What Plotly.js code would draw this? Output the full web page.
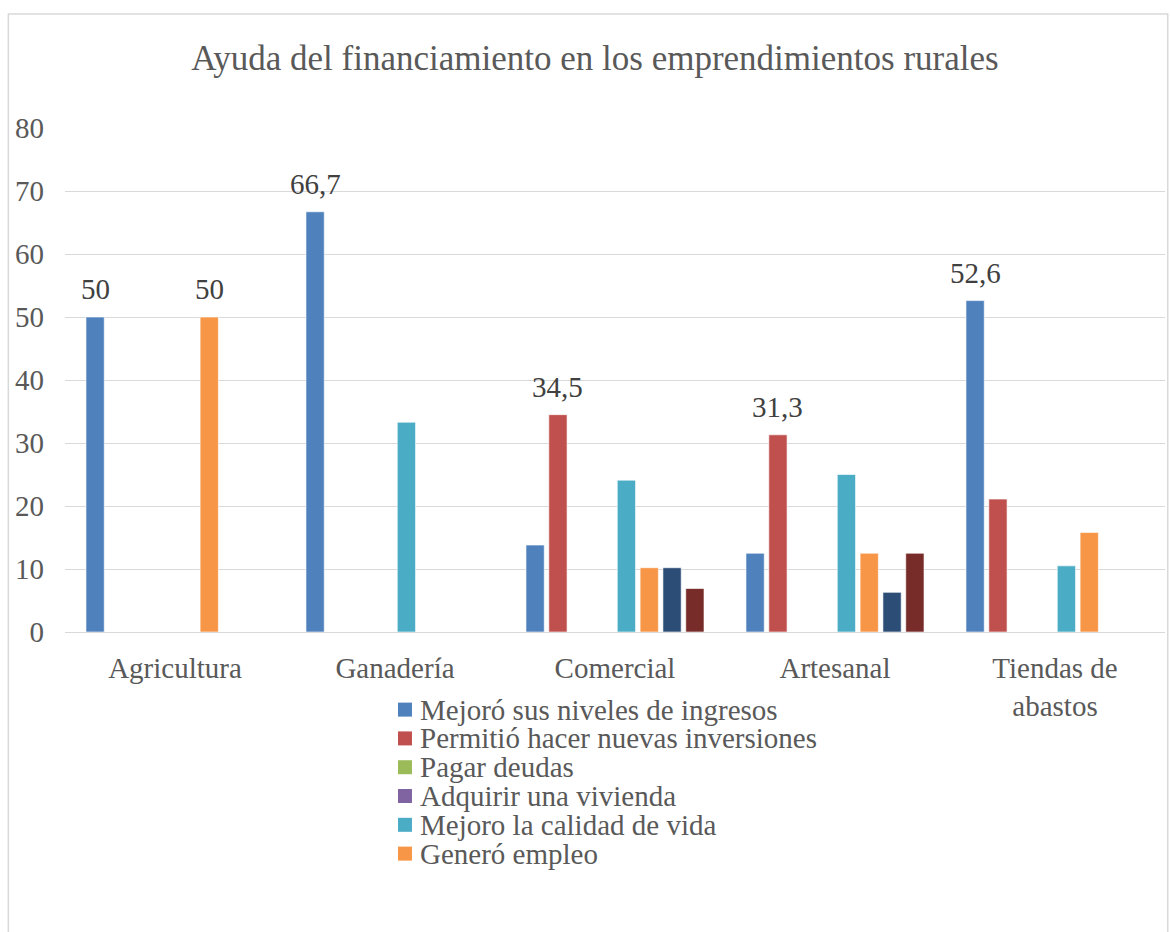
<!DOCTYPE html>
<html>
<head>
<meta charset="utf-8">
<script src="https://cdn.plot.ly/plotly-3.0.1.min.js"></script>
<style>html,body{margin:0;padding:0;background:#fff;}#chart{width:1170px;height:932px;}</style>
</head>
<body>
<div id="chart"></div>
<script>
// Data
const categories = ["Agricultura", "Ganadería", "Comercial", "Artesanal", "Tiendas de<br>abastos"];

const seriesNames = [
  "Mejoró sus niveles de ingresos",
  "Permitió hacer nuevas inversiones",
  "Pagar deudas",
  "Adquirir una vivienda",
  "Mejoro la calidad de vida",
  "Generó empleo",
  "Otros beneficios",
  "Otros"
];

const mejoroIngresos    = [50, 66.7, 13.8, 12.5, 52.6];
const nuevasInversiones = [0, 0, 34.5, 31.3, 21.1];
const pagarDeudas       = [0, 0, 0, 0, 0];
const adquirirVivienda  = [0, 0, 0, 0, 0];
const calidadVida       = [0, 33.3, 24.1, 25.0, 10.5];
const generoEmpleo      = [50, 0, 10.2, 12.5, 15.8];
const serie7            = [0, 0, 10.2, 6.3, 0];
const serie8            = [0, 0, 6.9, 12.5, 0];

const seriesValues = [mejoroIngresos, nuevasInversiones, pagarDeudas, adquirirVivienda,
                      calidadVida, generoEmpleo, serie7, serie8];

// which values carry a data label
const labelFlags = [
  [true, true, false, false, true],
  [false, false, true, true, false],
  [false, false, false, false, false],
  [false, false, false, false, false],
  [false, false, false, false, false],
  [true, false, false, false, false],
  [false, false, false, false, false],
  [false, false, false, false, false]
];

// legend entries shown in the reference (first six series)
const legendCount = 6;

const colors = ["#4F81BD", "#C0504D", "#9BBB59", "#8064A2", "#4BACC6", "#F79646", "#2C4D75", "#772C2A"];

function fmt(v) {
  return (Math.round(v * 10) / 10).toString().replace('.', ',');
}

const FONT = "Liberation Serif, Times New Roman, serif";
const GRAY = '#595959';
const BARGAP = 0.17;
const nSeries = seriesValues.length;

const traces = seriesValues.map((vals, i) => ({
  type: 'bar',
  name: seriesNames[i],
  x: categories,
  y: vals,
  marker: {color: colors[i], line: {color: 'rgba(255,255,255,0.6)', width: 1}},
  showlegend: false,
  hoverinfo: 'x+y+name'
}));

// data labels, placed over the bar slot of each series on the category axis
const annotations = [];
const slot = (1 - BARGAP) / nSeries;
seriesValues.forEach((vals, i) => {
  vals.forEach((v, j) => {
    if (!labelFlags[i][j]) return;
    annotations.push({
      xref: 'x', yref: 'y',
      x: j - (1 - BARGAP) / 2 + (i + 0.5) * slot,
      y: v,
      text: fmt(v),
      showarrow: false,
      xanchor: 'center', yanchor: 'bottom',
      yshift: 10,
      font: {family: FONT, size: 29, color: '#404040'}
    });
  });
});

// legend (drawn as text + swatches to match the compact line spacing)
const shapes = [{
  type: 'rect', xref: 'paper', yref: 'paper',
  x0: -0.0515, x1: 1.0025, y0: -0.62, y1: 1.226,
  line: {color: '#d9d9d9', width: 1.5}, fillcolor: 'rgba(0,0,0,0)', layer: 'below'
}];
const LEG_X = 0.3027, LEG_SW = 14 / 1100, LEG_TOP = -0.154, LEG_STEP = 28.8 / 504, SW_H = 14 / 504;
for (let i = 0; i < legendCount; i++) {
  const yc = LEG_TOP - i * LEG_STEP;
  shapes.push({
    type: 'rect', xref: 'paper', yref: 'paper',
    x0: LEG_X, x1: LEG_X + LEG_SW, y0: yc - SW_H / 2, y1: yc + SW_H / 2,
    line: {width: 0}, fillcolor: colors[i]
  });
  annotations.push({
    xref: 'paper', yref: 'paper',
    x: LEG_X + 20 / 1100, y: yc,
    xanchor: 'left', yanchor: 'middle',
    text: seriesNames[i], showarrow: false,
    font: {family: FONT, size: 29, color: GRAY}
  });
}

const layout = {
  width: 1170,
  height: 932,
  paper_bgcolor: '#ffffff',
  plot_bgcolor: '#ffffff',
  font: {family: FONT, color: GRAY},
  margin: {l: 65, r: 5, t: 128, b: 300},
  showlegend: false,
  title: {
    text: 'Ayuda del financiamiento en los emprendimientos rurales',
    font: {family: FONT, size: 35, color: GRAY},
    xref: 'container', x: 0.5085, xanchor: 'center',
    yref: 'container', y: 0.938, yanchor: 'middle'
  },
  barmode: 'group',
  bargap: BARGAP,
  bargroupgap: 0.2,
  xaxis: {
    type: 'category',
    showgrid: false,
    showline: true,
    linecolor: '#d9d9d9',
    linewidth: 1,
    ticks: '',
    tickfont: {family: FONT, size: 29, color: GRAY},
    ticklabelstandoff: 10
  },
  yaxis: {
    range: [0, 80],
    dtick: 10,
    showgrid: true,
    gridcolor: '#d9d9d9',
    gridwidth: 1,
    zeroline: false,
    showline: false,
    ticks: '',
    tickfont: {family: FONT, size: 29, color: GRAY},
    ticklabelstandoff: 20
  },
  annotations: annotations,
  shapes: shapes
};

Plotly.newPlot('chart', traces, layout, {displayModeBar: false, staticPlot: true});
</script>
</body>
</html>
